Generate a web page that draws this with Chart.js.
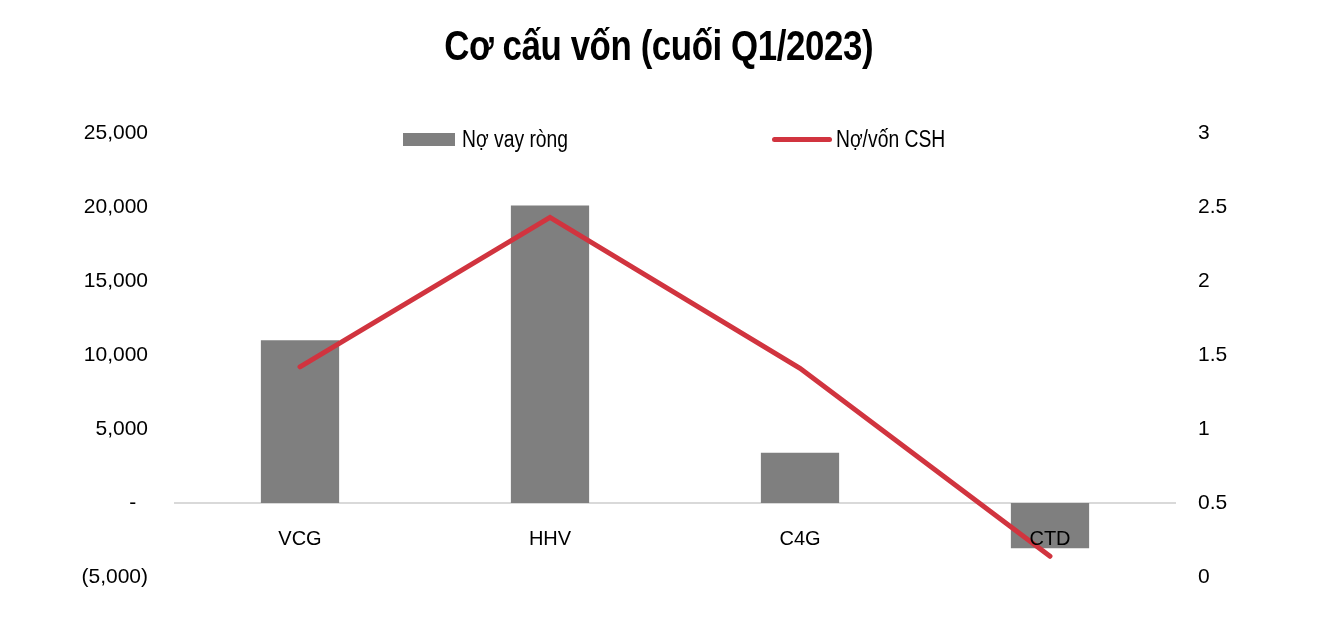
<!DOCTYPE html>
<html>
<head>
<meta charset="utf-8">
<script src="https://cdn.jsdelivr.net/npm/chart.js@4.4.1/dist/chart.umd.min.js"></script>
<style>
    body { margin: 0; background: #fff; }
    #wrap { position: relative; width: 1318px; height: 632px; }
    #title { position: absolute; left: 0; width: 1318px; top: 22px; margin: 0; text-align: center;
             font: bold 42px 'Liberation Sans', Arial, sans-serif; line-height: 48px; color: #000;
             transform: scaleX(0.83); transform-origin: 657px 0; letter-spacing: -0.5px; }
    .lg { position: absolute; font: 23px 'Liberation Sans', Arial, sans-serif; color: #000; line-height: 24px;
          white-space: nowrap; transform: scaleX(0.84); transform-origin: 0 0; }
    .sw { position: absolute; }
</style>
</head>
<body>
<div id="wrap">
    <canvas id="capitalChart" width="1318" height="632"></canvas>
    <h1 id="title"></h1>
    <div class="sw" id="swBar" style="left:403px; top:133px; width:52px; height:13px;"></div>
    <div class="lg" id="lgBar" style="left:462px; top:127px;"></div>
    <div class="sw" id="swLine" style="left:772px; top:137px; width:60px; height:5px; border-radius:3px;"></div>
    <div class="lg" id="lgLine" style="left:836px; top:127px;"></div>
</div>
<script>
// Dữ liệu
const chartTitle = 'Cơ cấu vốn (cuối Q1/2023)';
const categories = ['VCG', 'HHV', 'C4G', 'CTD'];
const netDebt = [11000, 20100, 3400, -3050];      // Nợ vay ròng (trục trái)
const debtToEquity = [1.42, 2.43, 1.41, 0.14];    // Nợ/vốn CSH (trục phải)
const seriesNames = ['Nợ vay ròng', 'Nợ/vốn CSH'];

const barColor = '#7f7f7f';
const lineColor = '#d1343f';
const fontFamily = "'Liberation Sans', Arial, sans-serif";

// Tiêu đề + legend bằng HTML
document.getElementById('title').textContent = chartTitle;
document.getElementById('swBar').style.background = barColor;
document.getElementById('swLine').style.background = lineColor;
document.getElementById('lgBar').textContent = seriesNames[0];
document.getElementById('lgLine').textContent = seriesNames[1];

function formatLeft(value) {
    if (value === 0) return '-  ';
    const s = Math.abs(value).toLocaleString('en-US');
    return value < 0 ? '(' + s + ')' : s;
}

const ctx = document.getElementById('capitalChart').getContext('2d');
new Chart(ctx, {
    data: {
        labels: categories,
        datasets: [
            {
                type: 'line',
                label: seriesNames[1],
                data: debtToEquity,
                yAxisID: 'y1',
                borderColor: lineColor,
                borderWidth: 5,
                borderCapStyle: 'round',
                pointRadius: 0,
                tension: 0,
                order: 0
            },
            {
                type: 'bar',
                label: seriesNames[0],
                data: netDebt,
                yAxisID: 'y',
                backgroundColor: barColor,
                barPercentage: 0.313,
                categoryPercentage: 1,
                order: 1
            }
        ]
    },
    options: {
        responsive: false,
        animation: false,
        layout: { padding: { left: 0, right: 0, top: 133, bottom: 55 } },
        plugins: {
            legend: { display: false },
            tooltip: { enabled: false },
            title: { display: false }
        },
        scales: {
            x: {
                position: { y: 0 },
                grid: { display: false, drawTicks: false },
                border: { display: true, color: '#d9d9d9', width: 2 },
                ticks: {
                    z: 1,   // nhãn vẽ đè lên cột CTD
                    autoSkip: false,
                    maxRotation: 0,
                    color: '#000',
                    padding: 24,
                    font: { family: fontFamily, size: 20 }
                }
            },
            y: {
                position: 'left',
                min: -5000,
                max: 25000,
                grid: { display: false, drawTicks: false },
                border: { display: false },
                afterFit: function (scale) { scale.width = 175; },
                ticks: {
                    stepSize: 5000,
                    color: '#000',
                    padding: 27,
                    font: { family: fontFamily, size: 21 },
                    callback: function (value) { return formatLeft(value); }
                }
            },
            y1: {
                position: 'right',
                min: 0,
                max: 3,
                grid: { display: false, drawTicks: false },
                border: { display: false },
                afterFit: function (scale) { scale.width = 143; },
                ticks: {
                    stepSize: 0.5,
                    color: '#000',
                    padding: 23,
                    font: { family: fontFamily, size: 21 },
                    callback: function (value) { return String(+value.toFixed(1)); }
                }
            }
        }
    }
});
</script>
</body>
</html>
